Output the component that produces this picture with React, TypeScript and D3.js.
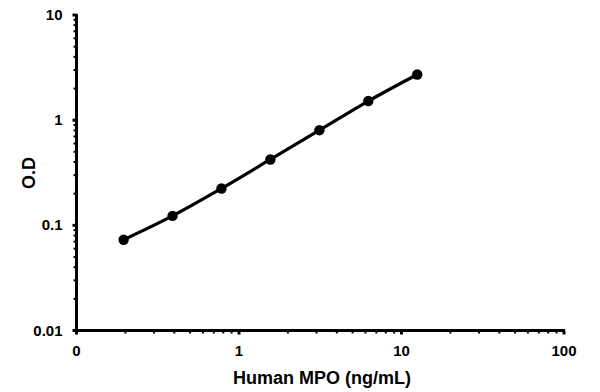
import React from "react";
import * as d3 from "d3";

const concentrations = [0.195, 0.39, 0.78, 1.56, 3.125, 6.25, 12.5];
const odValues = [0.073, 0.123, 0.224, 0.423, 0.803, 1.52, 2.72];
const xTickValues = [0.1, 1, 10, 100];
const xTickLabels = ["0", "1", "10", "100"];
const yTickValues = [0.01, 0.1, 1, 10];
const yTickLabels = ["0.01", "0.1", "1", "10"];

const W = 600;
const H = 392;
const left = 76.5;
const right = 564;
const top = 15;
const bottom = 330.5;

export default function App() {
  const x = d3.scaleLog().domain([0.1, 100]).range([left, right]);
  const y = d3.scaleLog().domain([0.01, 10]).range([bottom, top]);
  const line = d3
    .line<number>()
    .x((_, i) => x(concentrations[i]))
    .y((d) => y(d))
    .curve(d3.curveMonotoneX);

  const minorX: number[] = [];
  const minorY: number[] = [];
  for (let e = -1; e < 2; e++) {
    for (let m = 2; m < 10; m++) minorX.push(m * Math.pow(10, e));
  }
  for (let e = -2; e < 1; e++) {
    for (let m = 2; m < 10; m++) minorY.push(m * Math.pow(10, e));
  }
  const font = "Arial, 'Liberation Sans', sans-serif";

  return (
    <svg
      width={W}
      height={H}
      style={{ position: "absolute", left: 0, top: 0, background: "#fff" }}
      fontFamily={font}
    >
      <rect width={W} height={H} fill="#fff" />
      {minorX.map((v) => (
        <line key={"mx" + v} x1={x(v)} x2={x(v)} y1={bottom} y2={bottom + 3} stroke="#000" strokeWidth={2} />
      ))}
      {minorY.map((v) => (
        <line key={"my" + v} x1={left - 3} x2={left} y1={y(v)} y2={y(v)} stroke="#000" strokeWidth={2} />
      ))}
      {xTickValues.map((v) => (
        <line key={"tx" + v} x1={x(v)} x2={x(v)} y1={bottom} y2={bottom + 4} stroke="#000" strokeWidth={3} />
      ))}
      {yTickValues.map((v) => (
        <line key={"ty" + v} x1={left - 4} x2={left} y1={y(v)} y2={y(v)} stroke="#000" strokeWidth={3} />
      ))}
      <line x1={left} x2={left} y1={top - 1} y2={bottom + 1.5} stroke="#000" strokeWidth={3} />
      <line x1={left - 1.5} x2={right + 1} y1={bottom} y2={bottom} stroke="#000" strokeWidth={3} />
      {xTickValues.map((v, i) => (
        <text key={"lx" + v} x={x(v)} y={356} textAnchor="middle" fontSize={15} fontWeight="bold">
          {xTickLabels[i]}
        </text>
      ))}
      {yTickValues.map((v, i) => (
        <text key={"ly" + v} x={left - 14} y={y(v) + 5} textAnchor="end" fontSize={15} fontWeight="bold">
          {yTickLabels[i]}
        </text>
      ))}
      <text x={322} y={384} textAnchor="middle" fontSize={18} fontWeight="bold">
        Human MPO (ng/mL)
      </text>
      <text
        transform={`translate(35, 173) rotate(-90)`}
        textAnchor="middle"
        fontSize={18}
        fontWeight="bold"
      >
        O.D
      </text>
      <path d={line(odValues) || ""} fill="none" stroke="#000" strokeWidth={3.2} />
      {odValues.map((v, i) => (
        <circle key={"p" + i} cx={x(concentrations[i])} cy={y(v)} r={5.2} fill="#000" />
      ))}
    </svg>
  );
}
